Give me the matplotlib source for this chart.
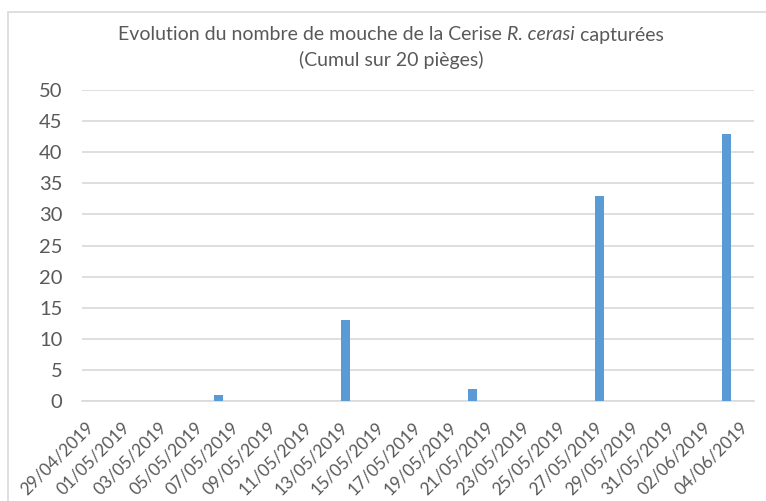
import matplotlib
matplotlib.use("Agg")
import matplotlib.pyplot as plt
from matplotlib.patches import Rectangle
import numpy as np
import datetime as dt

# ---- data ----
start_date = dt.date(2019, 4, 29)
end_date = dt.date(2019, 6, 4)
capture_dates = ["06/05/2019", "13/05/2019", "20/05/2019", "27/05/2019", "03/06/2019"]
capture_values = [1, 13, 2, 33, 43]
y_ticks = [0, 5, 10, 15, 20, 25, 30, 35, 40, 45, 50]
title_before = "Evolution du nombre de mouche de la Cerise "
title_italic = "R. cerasi"
title_after = " capturées"
title_line2 = "(Cumul sur 20 pièges)"

TXT = "#595959"
GRID = "#d9d9d9"
BAR = "#5b9bd5"
FONT = "Lato"

plt.rcParams["font.family"] = [FONT, "DejaVu Sans"]

W, H = 766, 501
fig = plt.figure(figsize=(W / 100, H / 100), dpi=100)
fig.patch.set_facecolor("white")

left, right, top, bottom = 82, 754, 90, 401
ax = fig.add_axes([left / W, 1 - bottom / H, (right - left) / W, (bottom - top) / H])

n_days = (end_date - start_date).days + 1
all_dates = [start_date + dt.timedelta(days=i) for i in range(n_days)]

def to_idx(s):
    d = dt.datetime.strptime(s, "%d/%m/%Y").date()
    return (d - start_date).days

xs = [to_idx(s) for s in capture_dates]
ax.bar(xs, capture_values, width=0.5, color=BAR, zorder=3)

ax.set_xlim(-0.5, n_days - 0.5)
ax.set_ylim(0, 50)
ax.set_yticks(y_ticks)
ax.set_yticklabels([str(v) for v in y_ticks], fontsize=14.5, color=TXT)
ax.yaxis.grid(True, color=GRID, linewidth=1.2, zorder=0)
ax.set_axisbelow(True)

tick_idx = list(range(0, n_days, 2))
ax.set_xticks(tick_idx)
ax.set_xticklabels([all_dates[i].strftime("%d/%m/%Y") for i in tick_idx],
                   rotation=45, ha="right", va="center", rotation_mode="anchor",
                   fontsize=12.4, color=TXT)
ax.tick_params(axis="x", length=0, pad=17)
ax.tick_params(axis="y", length=0, pad=14)
for s in ["top", "right", "left"]:
    ax.spines[s].set_visible(False)
ax.spines["bottom"].set_color(GRID)
ax.spines["bottom"].set_linewidth(1.2)
ax.spines["bottom"].set_zorder(1)

# chart border (extends past right/bottom edges)
fig.patches.append(Rectangle((8 / W, -0.2), 1.2, (H - 12) / H + 0.2,
                             transform=fig.transFigure, fill=False,
                             edgecolor=GRID, linewidth=1.2))

# title with italic part
fig.canvas.draw()
r = fig.canvas.get_renderer()
ty1 = 1 - 35 / H
ty2 = 1 - 60 / H
cx = 391 / W
parts = [(title_before, "normal"), (title_italic, "italic"), (title_after, "normal")]
texts = []
widths = []
for s, st in parts:
    t = fig.text(0, ty1, s, fontsize=14, color=TXT, style=st, va="center", ha="left")
    bb = t.get_window_extent(r)
    texts.append(t)
    widths.append(bb.width)
total = sum(widths)
x0 = cx * W - total / 2
for t, w in zip(texts, widths):
    t.set_x(x0 / W)
    x0 += w
fig.text(cx, ty2, title_line2, fontsize=14, color=TXT, ha="center", va="center")

fig.savefig("out.png", dpi=100)
